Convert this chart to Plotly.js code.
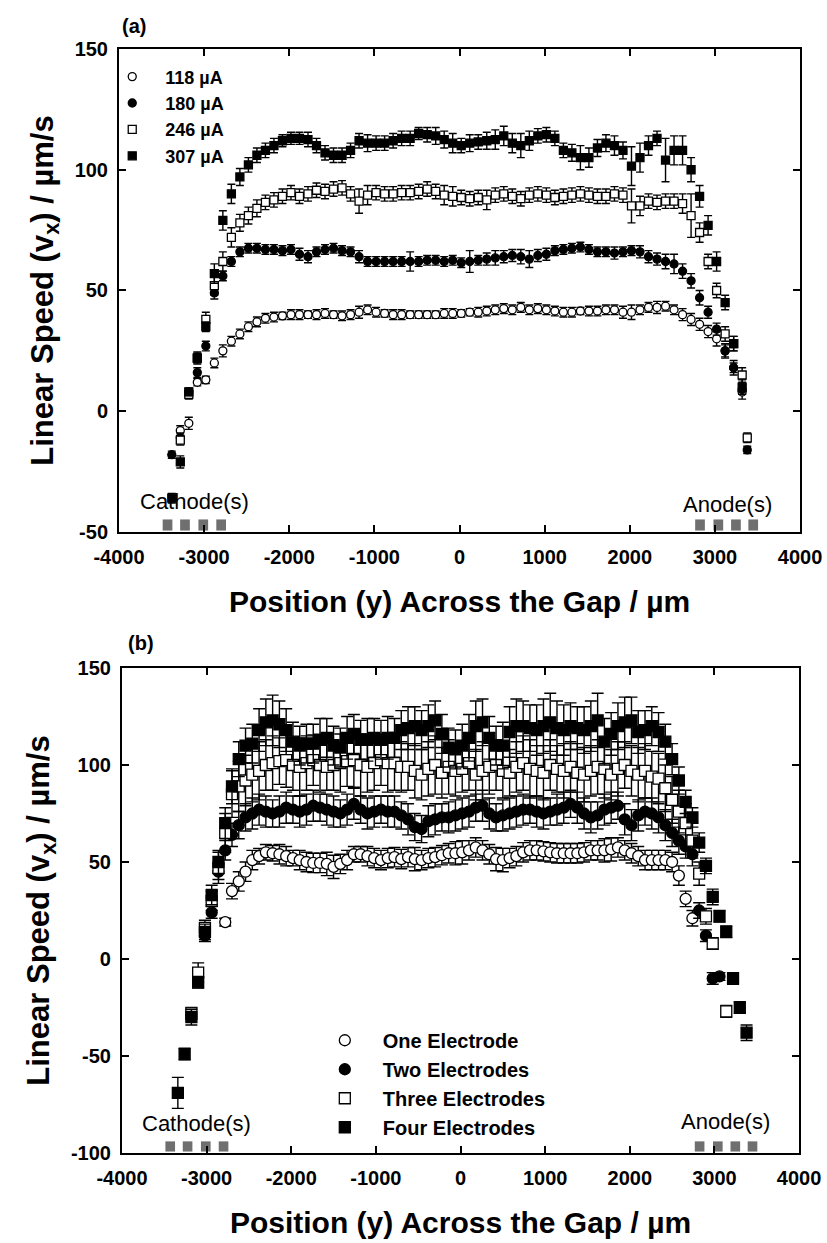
<!DOCTYPE html>
<html>
<head>
<meta charset="utf-8">
<script src="https://cdn.plot.ly/plotly-3.0.1.min.js"></script>
<style>
  html, body { margin: 0; padding: 0; background: #ffffff; }
  #chart { width: 827px; height: 1243px; }
</style>
</head>
<body>
<div id="chart"></div>
<script>
// ---------- Panel (a): speed profiles at four applied currents ----------
const posA = [-3380, -3280, -3180, -3080, -2980, -2880, -2780, -2680, -2580, -2480,
  -2380, -2280, -2180, -2080, -1980, -1880, -1780, -1680, -1580, -1480,
  -1380, -1280, -1180, -1080, -980, -880, -780, -680, -580, -480,
  -380, -280, -180, -80, 20, 120, 220, 320, 420, 520,
  620, 720, 820, 920, 1020, 1120, 1220, 1320, 1420, 1520,
  1620, 1720, 1820, 1920, 2020, 2120, 2220, 2320, 2420, 2520,
  2620, 2720, 2820, 2920, 3020, 3120, 3220, 3320, 3380];

const namesA = ['118 \u00b5A', '180 \u00b5A', '246 \u00b5A', '307 \u00b5A'];

const speed118 = [null, -8, -5, 12, 13, 20, 25, 29, 32, 35,
  37, 38.5, 39, 39.5, 40, 40, 40, 40, 40.5, 40,
  39.5, 40, 41, 42, 41, 40.5, 40, 40, 40, 40,
  40, 40, 40.5, 40.5, 40.5, 41, 41, 41.5, 42, 42.5,
  42, 43, 42, 42.5, 42, 41.5, 41, 41, 41.5, 41.5,
  41.5, 42, 42, 41, 41, 42, 43, 43, 43.5, 42,
  40, 38, 36, 33, 30, 25, 18, 8, null];
const err118 = [0, 2, 2.5, 1.5, 1.5, 2, 2.5, 2, 2, 2,
  2, 2, 2, 1.5, 2, 2, 1.5, 2, 2, 1.5,
  2, 2, 2.5, 2, 2, 1.5, 2, 2, 1.5, 1.5,
  1.5, 1.5, 2, 2, 1.5, 1.5, 2, 2, 2, 2,
  2, 2, 2, 2, 2, 2, 2, 2, 1.5, 2,
  2, 2, 2, 2.5, 3, 2, 2, 2.5, 2, 2,
  2.5, 2.5, 2.5, 2.5, 3, 3, 3, 3, 0];

const speed180 = [-18, -11, 8, 16, 27, 49, 56, 62, 66, 67.5,
  67.5, 67, 67, 66.5, 67, 65, 64, 66, 67, 67.5,
  66.5, 66, 64, 62, 62, 62, 62, 62, 62, 62,
  62.5, 62.5, 62, 62.5, 61.5, 62, 62.5, 63, 63.5, 64,
  64.5, 64, 63, 64.5, 65, 66.5, 67, 67.5, 68, 67,
  66, 66, 65.5, 66, 66.5, 66, 64, 63, 62, 61,
  58, 54, 47, 41, 34, 25, 18, 9, -16];
const err180 = [1.5, 2, 1.5, 2, 2, 2.5, 2, 2, 2, 2,
  2, 2, 2, 2, 2, 2.5, 2.5, 2, 2, 2,
  2, 2, 2.5, 2, 2, 2, 2, 2, 4, 2,
  2, 2, 2, 2, 2, 4.5, 2, 2.5, 3, 2.5,
  2.5, 3, 3.5, 2.5, 2.5, 2, 2, 2, 2, 2,
  2, 2, 2.5, 2, 2, 2.5, 2.5, 2.5, 3, 4,
  3, 3, 3, 2.5, 2.5, 2.5, 2, 2, 1.5];

const speed246 = [null, -12, 7, 22, 38, 52, 62, 72, 78, 81,
  84, 86.5, 87.5, 89, 90.5, 89, 90, 91.5, 91, 92,
  92.5, 90, 87, 89.5, 90.5, 90, 90, 90.5, 90.5, 91,
  92, 91, 89.5, 89, 88.5, 88, 88.5, 87.5, 89.5, 90,
  89, 88, 89.5, 90, 89.5, 88.5, 89, 89.5, 90, 89.5,
  89, 89, 90, 89.5, 85, 85, 87, 86.5, 87, 87,
  86, 81, 74, 62, 50, 32, 28, 15, -11];
const err246 = [0, 2, 2, 2.5, 3, 4, 4, 4, 3.5, 3.5,
  3.5, 3, 3, 3, 3, 3, 3, 3, 3, 3,
  3, 3, 5, 4, 3, 3, 3, 3, 3, 3,
  3, 3, 4, 4, 3, 3, 3, 4, 3, 3,
  3, 3, 3, 3, 3, 3, 3, 3, 3, 3,
  3, 3, 3, 3, 7, 4, 3, 3, 3, 3,
  4, 9, 4, 3, 3, 3, 3, 3, 2];

const speed307 = [-36, -21, 8, 22, 35, 57, 79, 90, 97, 102,
  106, 108, 110, 112, 113, 113, 112.5, 110, 107, 106,
  106, 108, 112, 111, 111, 111, 112, 113, 113, 115,
  114.5, 114, 112.5, 111, 110, 111, 111.5, 112, 112.5, 114,
  111, 110, 112, 114, 114.5, 113, 108, 107, 105, 105,
  109, 111, 110, 108, 101.5, 105, 110, 113, 104, 108,
  108, 100, 89, 77, 62, 45, 28, 10, null];
const err307 = [2, 2.5, 1.5, 2, 2, 4, 4, 4, 3.5, 3,
  3, 3, 3, 2.5, 2.5, 2.5, 3, 3, 3, 3,
  3, 3, 3, 3.5, 3, 3, 3, 3, 3, 2.5,
  3, 3.5, 3.5, 4, 3, 3.5, 3, 3.5, 4, 4,
  4, 5, 4, 3, 3, 3, 3, 3.5, 5, 4,
  3.5, 3.5, 4, 3.5, 8, 6, 4, 3, 9, 6,
  6, 5, 4.5, 4, 4, 3, 3, 3, 0];

// ---------- Panel (b): speed profiles for one to four electrode pairs ----------
const posB = [-3340, -3260, -3180, -3100, -3020, -2940, -2860, -2780, -2700, -2620,
  -2540, -2460, -2380, -2300, -2220, -2140, -2060, -1980, -1900, -1820,
  -1740, -1660, -1580, -1500, -1420, -1340, -1260, -1180, -1100, -1020,
  -940, -860, -780, -700, -620, -540, -460, -380, -300, -220,
  -140, -60, 20, 100, 180, 260, 340, 420, 500, 580,
  660, 740, 820, 900, 980, 1060, 1140, 1220, 1300, 1380,
  1460, 1540, 1620, 1700, 1780, 1860, 1940, 2020, 2100, 2180,
  2260, 2340, 2420, 2500, 2580, 2660, 2740, 2820, 2900, 2980,
  3060, 3140, 3220, 3300, 3380];

const namesB = ['One Electrode', 'Two Electrodes', 'Three Electrodes', 'Four Electrodes'];

const speedOne = [null, null, null, null, null, null, null, 19, 35, 40,
  45, 51, 53, 55, 54.5, 54, 53, 52, 51, 50,
  49.5, 49.5, 49, 47.5, 49, 51, 54, 54, 53, 52,
  51, 52, 52.5, 51.5, 52.5, 51.5, 51, 52, 52.5, 53.5,
  54.5, 54.5, 55, 56, 57.5, 56, 54, 51.5, 51, 52,
  53, 55, 56, 56, 55.5, 55, 54.5, 54.5, 54.5, 54.5,
  55, 56, 56, 56, 56.5, 57.5, 56, 54.5, 53, 51,
  51, 51, 51, 50, 43, 31, 21, null, null, null,
  null, null, null, null, null];
const errOne = [0, 0, 0, 0, 0, 0, 0, 2, 4, 5,
  5, 5, 4, 4, 4, 5, 5, 4, 5, 5,
  5, 5, 6, 6, 5, 5, 4, 4, 5, 5,
  5, 5, 5, 5, 5, 6, 5, 5, 5, 5,
  5, 6, 6, 5, 5, 5, 5, 6, 6, 5,
  5, 5, 5, 5, 5, 5, 5, 5, 5, 5,
  5, 5, 5, 6, 6, 5, 5, 5, 5, 5,
  5, 5, 5, 5, 5, 4, 4, 0, 0, 0,
  0, 0, 0, 0, 0];

const speedTwo = [null, null, null, null, 12, 24, 45, 56, 64, 69,
  73, 75, 77, 76, 75, 76, 78, 77, 76, 77,
  79, 78, 77, 76, 75, 77, 80, 77, 75, 76,
  77, 76, 76, 74, 72, 68, 67, 71, 72, 73,
  73, 74, 75, 76, 78, 79, 75, 73, 74, 75,
  76, 77, 77, 76, 75, 76, 77, 78, 80, 78,
  75, 73, 74, 77, 78, 79, 72, 69, 74, 76,
  75, 73, 69, 65, 61, 58, 54, 25, 12, -10,
  -9, null, null, null, null];
const errTwo = [0, 0, 0, 0, 3, 3, 4, 5, 6, 7,
  7, 8, 8, 8, 7, 8, 8, 7, 8, 8,
  8, 7, 8, 8, 7, 8, 8, 7, 8, 8,
  7, 8, 8, 7, 8, 7, 7, 8, 8, 7,
  8, 8, 8, 8, 7, 8, 8, 7, 8, 8,
  8, 8, 7, 8, 8, 7, 8, 8, 7, 8,
  8, 8, 7, 8, 8, 7, 8, 8, 8, 7,
  8, 8, 8, 7, 7, 6, 6, 4, 3, 3,
  2, 0, 0, 0, 0];

const speedThree = [null, null, -28, -7, 16, 30, 47, 65, 85, 89,
  92, 95, 97, 100, 101, 102, 102.5, 100, 99, 101,
  102.5, 100, 99, 100, 101, 102, 102.5, 100, 99, 101,
  102.5, 101, 101, 99, 99, 97, 95, 98, 100, 96,
  99, 97, 98, 101, 95, 97, 99, 100, 97, 96,
  99, 101, 98, 97, 96, 100, 98, 97, 99, 96,
  95, 97, 99, 98, 95, 98, 100, 97, 95, 97,
  94, 93, 88, 82, 76, 70, 61, 44, 22, 8,
  null, -27, null, null, null];
const errThree = [0, 0, 3, 5, 4, 5, 8, 10, 12, 13,
  13, 14, 15, 13, 14, 12, 14, 13, 15, 14,
  13, 14, 12, 13, 15, 13, 14, 16, 13, 14,
  13, 15, 14, 13, 12, 14, 13, 14, 15, 13,
  14, 13, 12, 14, 13, 15, 14, 13, 14, 12,
  13, 14, 15, 13, 14, 13, 12, 14, 13, 15,
  14, 13, 14, 15, 13, 14, 12, 13, 14, 14,
  13, 13, 12, 12, 11, 10, 9, 6, 4, 3,
  0, 3, 0, 0, 0];

const speedFour = [-69, -49, -30, -12, 14, 33, 50, 70, 89, 103,
  110, 111, 118, 122, 123, 121, 118, 112, 110, 111,
  111, 113, 114, 110, 109, 114, 116, 113, 113, 114,
  113, 114, 114, 118, 119, 120, 118, 120, 123, 116,
  109, 108, 110, 114, 120, 122, 114, 110, 110, 117,
  120, 120, 119, 118, 120, 122, 119, 118, 120, 119,
  118, 120, 123, 112, 116, 120, 122, 123, 117, 118,
  120, 117, 112, 103, 92, 81, 73, 60, 48, 32,
  22, 14, -10, -25, -38];
const errFour = [8, 3, 4, 3, 4, 5, 6, 8, 9, 9,
  9, 10, 11, 12, 13, 12, 11, 10, 10, 10,
  10, 11, 10, 10, 10, 11, 10, 10, 11, 10,
  10, 11, 10, 10, 11, 10, 10, 11, 10, 10,
  10, 10, 11, 12, 13, 12, 11, 10, 12, 13,
  14, 13, 12, 13, 14, 15, 14, 13, 12, 11,
  12, 13, 14, 12, 11, 12, 13, 12, 11, 10,
  10, 10, 9, 8, 7, 6, 5, 5, 4, 4,
  3, 3, 3, 3, 4];

// Electrode centres along the gap (µm)
const cathodePos = [-3430, -3225, -3010, -2800];
const anodePos = [2825, 3040, 3247, 3450];
const electrodeLabels = ['Cathode(s)', 'Anode(s)'];
const panelLabels = ['(a)', '(b)'];

// Axis ticks (plain hyphen for negatives)
const xTickVals = [-4000, -3000, -2000, -1000, 0, 1000, 2000, 3000, 4000];
const xTickText = ['-4000', '-3000', '-2000', '-1000', '0', '1000', '2000', '3000', '4000'];
const yTickValsA = [-50, 0, 50, 100, 150];
const yTickTextA = ['-50', '0', '50', '100', '150'];
const yTickValsB = [-100, -50, 0, 50, 100, 150];
const yTickTextB = ['-100', '-50', '0', '50', '100', '150'];
const xTitle = 'Position (y) Across the Gap / \u00b5m';
const yTitle = 'Linear Speed (v<sub>x</sub>) / \u00b5m/s';

// ---------- styling ----------
const FONT = 'Liberation Sans, Arial, Helvetica, sans-serif';
const BLACK = '#000000';
const symbols = [
  { symbol: 'circle', fill: '#ffffff' },
  { symbol: 'circle', fill: BLACK },
  { symbol: 'square', fill: '#ffffff' },
  { symbol: 'square', fill: BLACK }
];

function series(x, y, err, name, k, ax, leg, size, capw) {
  return {
    type: 'scatter', mode: 'markers',
    x: x, y: y, name: name,
    xaxis: ax[0], yaxis: ax[1], legend: leg,
    cliponaxis: true,
    marker: { symbol: symbols[k].symbol, size: size, color: symbols[k].fill,
              line: { color: BLACK, width: 1.3 } },
    error_y: { type: 'data', array: err, visible: true, color: BLACK,
               thickness: 1.4, width: capw }
  };
}

const ySetA = [speed118, speed180, speed246, speed307];
const eSetA = [err118, err180, err246, err307];
const ySetB = [speedOne, speedTwo, speedThree, speedFour];
const eSetB = [errOne, errTwo, errThree, errFour];

const traces = [];
for (let k = 0; k < 4; k++) {
  traces.push(series(posA, ySetA[k], eSetA[k], namesA[k], k, ['x', 'y'], 'legend', 8, 4));
}
for (let k = 0; k < 4; k++) {
  traces.push(series(posB, ySetB[k], eSetB[k], namesB[k], k, ['x2', 'y2'], 'legend2', 11, 6));
}

// Electrode pads drawn as small grey blocks resting on the lower axis
const shapes = [];
const padHalf = 57;
[['x', 'y domain', 0.026], ['x2', 'y2 domain', 0.024]].forEach(function (r) {
  cathodePos.concat(anodePos).forEach(function (c) {
    shapes.push({ type: 'rect', xref: r[0], yref: r[1], x0: c - padHalf, x1: c + padHalf,
                  y0: 0.003, y1: r[2], fillcolor: '#6f6f6f', line: { width: 0 }, layer: 'below' });
  });
});

function xAxis(domain, anchor) {
  return {
    domain: domain, anchor: anchor, range: [-4000, 4000],
    tickmode: 'array', tickvals: xTickVals, ticktext: xTickText,
    showgrid: false, zeroline: false, showline: true, linecolor: BLACK, linewidth: 2,
    mirror: 'ticks', ticks: 'inside', ticklen: 7, tickwidth: 2, tickcolor: BLACK,
    tickfont: { family: FONT, size: 20, color: BLACK, weight: 700 },
    ticklabelstandoff: 6,
    title: { text: xTitle, font: { family: FONT, size: 30, color: BLACK, weight: 700 }, standoff: 24 }
  };
}
function yAxis(domain, anchor, range, vals, text) {
  return {
    domain: domain, anchor: anchor, range: range,
    tickmode: 'array', tickvals: vals, ticktext: text,
    showgrid: false, zeroline: false, showline: true, linecolor: BLACK, linewidth: 2,
    mirror: 'ticks', ticks: 'inside', ticklen: 7, tickwidth: 2, tickcolor: BLACK,
    tickfont: { family: FONT, size: 20, color: BLACK, weight: 700 },
    ticklabelstandoff: 5,
    title: { text: yTitle, font: { family: FONT, size: 31, color: BLACK, weight: 700 }, standoff: 12 }
  };
}

function note(text, xref, yref, x, y, size, weight) {
  return { text: text, xref: xref, yref: yref, x: x, y: y, showarrow: false,
           xanchor: 'center', yanchor: 'middle',
           font: { family: FONT, size: size, color: BLACK, weight: weight } };
}

const annotations = [
  note(electrodeLabels[0], 'x', 'y domain', -3108, 0.064, 22, 400),
  note(electrodeLabels[1], 'x', 'y domain', 3143, 0.056, 22, 400),
  note(electrodeLabels[0], 'x2', 'y2 domain', -3115, 0.060, 22, 400),
  note(electrodeLabels[1], 'x2', 'y2 domain', 3126, 0.064, 22, 400),
  Object.assign(note(panelLabels[0], 'paper', 'paper', 0.145, 0.979, 20, 700), { xanchor: 'left' }),
  Object.assign(note(panelLabels[1], 'paper', 'paper', 0.152, 0.4827, 20, 700), { xanchor: 'left' })
];

const layout = {
  width: 827, height: 1243,
  margin: { l: 0, r: 0, t: 0, b: 0 },
  paper_bgcolor: '#ffffff', plot_bgcolor: '#ffffff',
  font: { family: FONT, color: BLACK },
  xaxis: xAxis([0.1439, 0.9674], 'y'),
  yaxis: yAxis([0.5720, 0.9606], 'x', [-50, 150], yTickValsA, yTickTextA),
  xaxis2: xAxis([0.1475, 0.9662], 'y2'),
  yaxis2: yAxis([0.0724, 0.4626], 'x2', [-100, 150], yTickValsB, yTickTextB),
  legend: { x: 0.12, y: 0.953, xanchor: 'left', yanchor: 'top', bgcolor: 'rgba(0,0,0,0)',
            itemwidth: 56, font: { family: FONT, size: 18, color: BLACK, weight: 700 } },
  legend2: { x: 0.371, y: 0.1788, xanchor: 'left', yanchor: 'top', bgcolor: 'rgba(0,0,0,0)',
             itemwidth: 66, font: { family: FONT, size: 20, color: BLACK, weight: 700 } },
  showlegend: true,
  shapes: shapes,
  annotations: annotations
};

Plotly.newPlot('chart', traces, layout, { staticPlot: true, displayModeBar: false });
</script>
</body>
</html>
